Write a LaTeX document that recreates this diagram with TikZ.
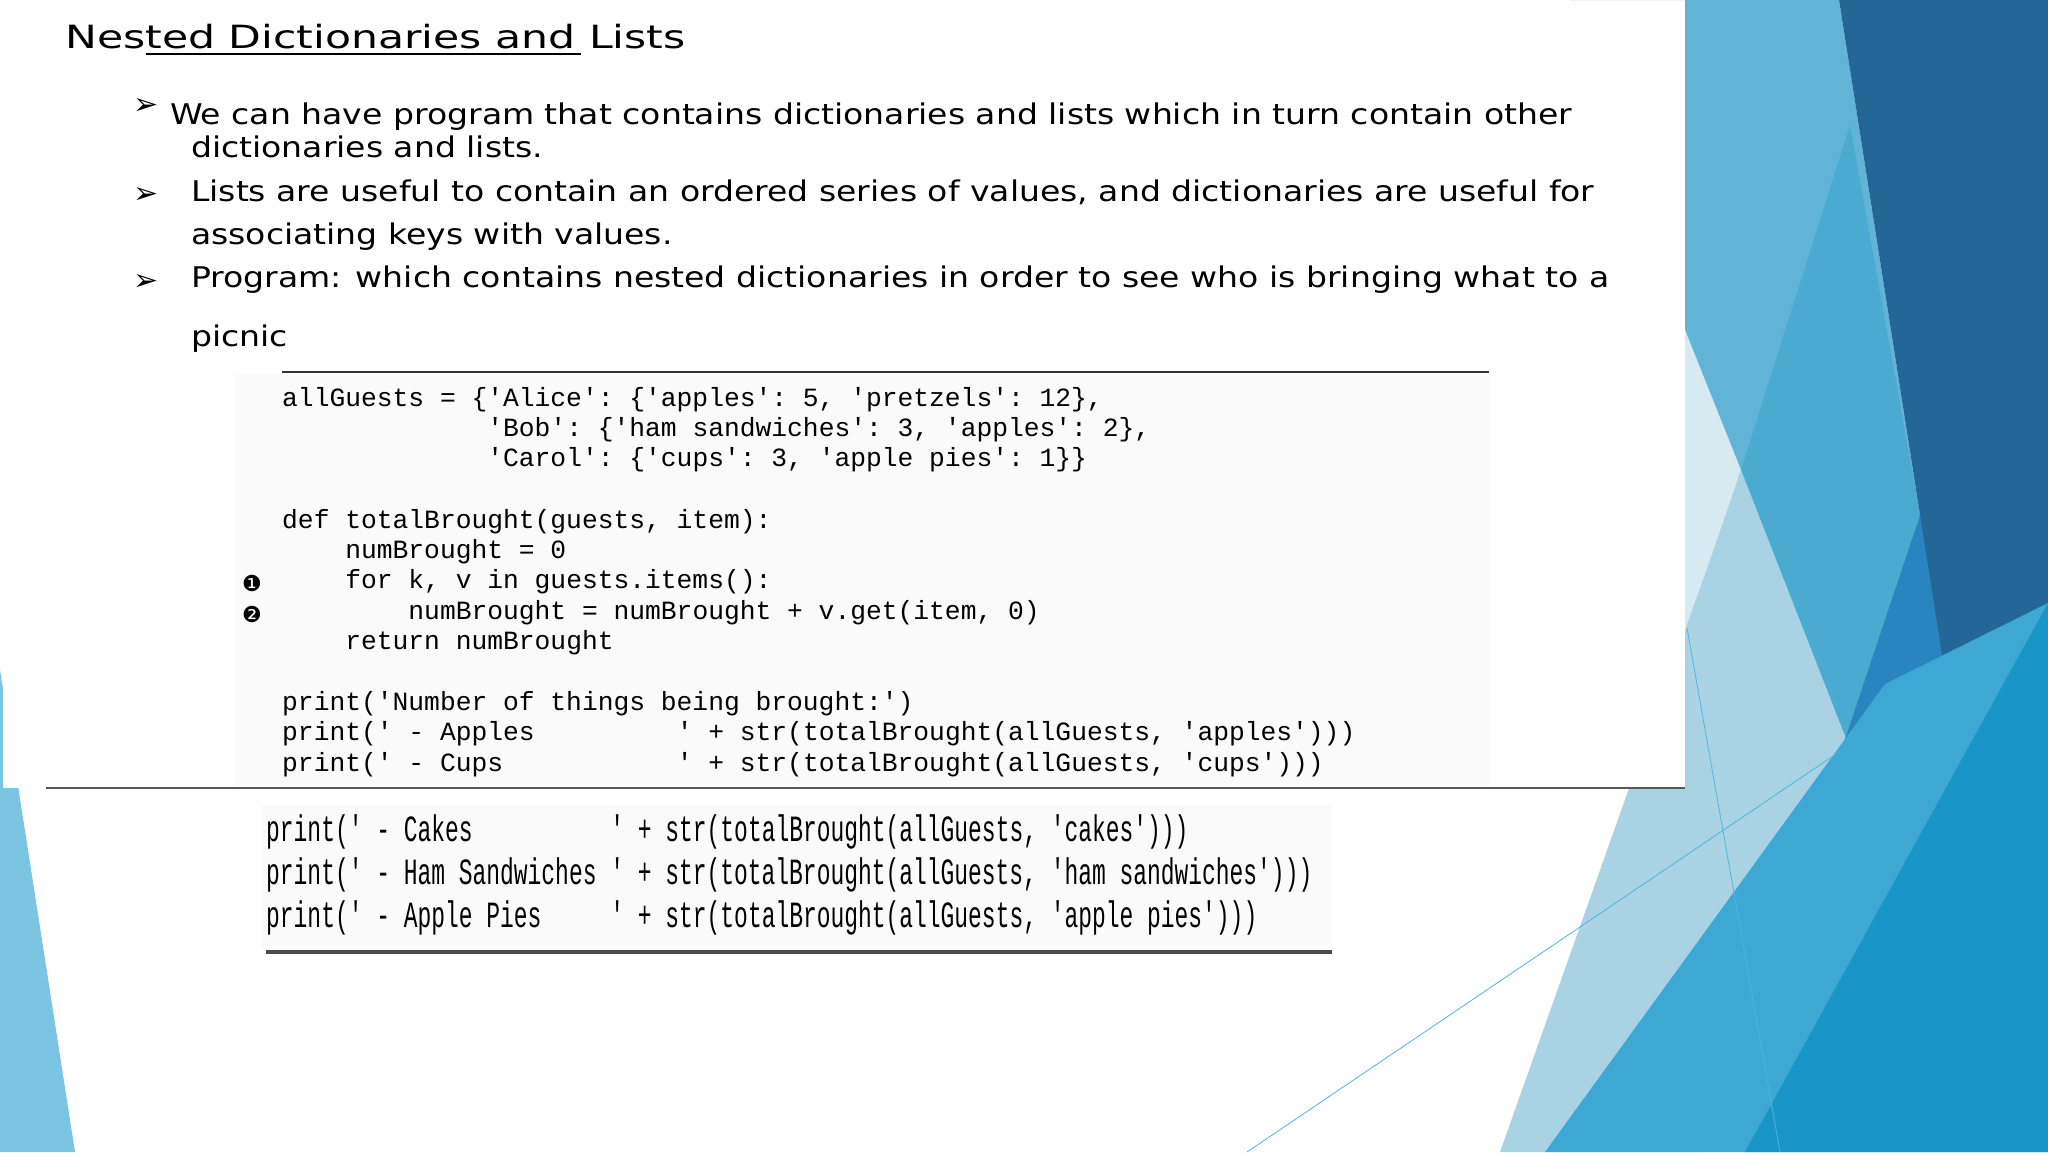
\documentclass[tikz,border=0pt]{standalone}
\usepackage{fontspec}
\setmainfont{DejaVu Sans}[FakeStretch=1.16]
\setmonofont{Liberation Mono}
\newfontfamily\titlefont{DejaVu Sans}[FakeStretch=1.33]
\newfontfamily\condmono{Liberation Mono}[FakeStretch=0.62]
\newfontfamily\dejavu{DejaVu Sans}
\definecolor{lblue}{RGB}{98,180,214}
\definecolor{mblue}{RGB}{74,170,208}
\definecolor{dblue}{RGB}{35,103,150}
\definecolor{pale}{RGB}{214,234,242}
\definecolor{grayblue}{RGB}{169,211,229}
\definecolor{band}{RGB}{60,168,211}
\definecolor{deep}{RGB}{26,149,199}
\definecolor{royal}{RGB}{42,132,192}
\definecolor{leftblue}{RGB}{124,197,226}
\definecolor{thinline}{RGB}{80,180,220}
\begin{document}
\begin{tikzpicture}[x=1pt,y=-1pt,
  body/.style={anchor=base west,inner sep=0pt,font=\fontsize{28.5}{30}\selectfont},
  codeline/.style={anchor=base west,inner sep=0pt,font=\fontsize{26.3}{28}\ttfamily},
  cond/.style={anchor=base west,inner sep=0pt,font=\fontsize{37}{40}\condmono},
  bulletmark/.style={anchor=base,inner sep=0pt,font=\fontsize{30}{32}\dejavu},
  nummark/.style={anchor=base,inner sep=0pt,font=\fontsize{22}{24}\dejavu}]
\useasboundingbox (0,0) rectangle (2048,1152);
\fill[white] (0,0) rectangle (2048,1152);
% left triangle
\fill[leftblue] (0,670) -- (75,1152) -- (0,1152) -- cycle;
% right shapes
\fill[lblue] (1570,0) -- (1839,0) -- (1920,515) -- (1839,757) -- (1685,330) -- (1685,0) -- cycle;
\fill[mblue] (1850,125) -- (1920,515) -- (1839,757) -- (1741,470) -- cycle;
\fill[pale] (1685,330) -- (1741,470) -- (1710,560) -- (1685,632) -- cycle;
\fill[grayblue] (1741,470) -- (1870,800) -- (1700,1152) -- (1500,1152) -- (1710,560) -- cycle;
\fill[dblue] (1839,0) -- (2048,0) -- (2048,603) -- (1864,926) -- (1920,515) -- cycle;
\fill[royal] (1920,515) -- (1958,757) -- (1864,926) -- (1839,757) -- cycle;
\fill[band] (1545,1152) -- (1885,684) -- (2048,603) -- (2048,1152) -- cycle;
\fill[deep] (1745,1152) -- (2048,603) -- (2048,1152) -- cycle;
\draw[thinline,line width=0.8] (1247,1152) -- (1839,752);
\draw[thinline,line width=0.8] (1687,628) -- (1780,1152);
% white panel
\fill[white] (3,21) rectangle (1685,788);
\draw[gray!70!black,line width=1.5] (46,788) -- (1685,788);
% title
\node[anchor=base west,inner sep=0pt,font=\fontsize{32}{34}\titlefont] (title) at (65,48) {Nested Dictionaries and Lists};
\draw[line width=1.2] (146,54) -- (581,54);
% bullets
\node[bulletmark] (b1) at (146,114) {➢};
\node[body] (t1) at (170,124) {We can have program that contains dictionaries and lists which in turn contain other};
\node[body] (t1b) at (191,157) {dictionaries and lists.};
\node[bulletmark] (b2) at (146,203) {➢};
\node[body] (t2) at (191,201) {Lists are useful to contain an ordered series of values, and dictionaries are useful for};
\node[body] (t2b) at (191,244) {associating keys with values.};
\node[bulletmark] (b3) at (146,290) {➢};
\node[body] (t3) at (191,287) {Program: which contains nested dictionaries in order to see who is bringing what to a};
\node[body] (t3b) at (191,346) {picnic};
% code block
\fill[gray!4] (235,374) rectangle (1489,785);
\draw[line width=1.5,black!80] (282,372) -- (1489,372);
\node[codeline] (c1) at (282,406) {allGuests = \{'Alice': \{'apples': 5, 'pretzels': 12\},};
\node[codeline] (c2) at (282,436) {~~~~~~~~~~~~~'Bob': \{'ham sandwiches': 3, 'apples': 2\},};
\node[codeline] (c3) at (282,466) {~~~~~~~~~~~~~'Carol': \{'cups': 3, 'apple pies': 1\}\}};
\node[codeline] (c4) at (282,528) {def totalBrought(guests, item):};
\node[codeline] (c5) at (282,558) {~~~~numBrought = 0};
\node[codeline] (c6) at (282,588) {~~~~for k, v in guests.items():};
\node[codeline] (c7) at (282,619) {~~~~~~~~numBrought = numBrought + v.get(item, 0)};
\node[codeline] (c8) at (282,649) {~~~~return numBrought};
\node[codeline] (c9) at (282,710) {print('Number of things being brought:')};
\node[codeline] (c10) at (282,740) {print(' - Apples~~~~~~~~~' + str(totalBrought(allGuests, 'apples')))};
\node[codeline] (c11) at (282,771) {print(' - Cups~~~~~~~~~~~' + str(totalBrought(allGuests, 'cups')))};
\node[nummark] (m1) at (252,591) {❶};
\node[nummark] (m2) at (252,622) {❷};
% lower block
\fill[gray!4] (262,805) rectangle (1332,948);
\node[cond] (d1) at (266,841) {print(' - Cakes~~~~~~~~~~' + str(totalBrought(allGuests, 'cakes')))};
\node[cond] (d2) at (266,884) {print(' - Ham Sandwiches~' + str(totalBrought(allGuests, 'ham sandwiches')))};
\node[cond] (d3) at (266,927) {print(' - Apple Pies~~~~~' + str(totalBrought(allGuests, 'apple pies')))};
\draw[line width=4,gray!60!black] (266,952) -- (1332,952);
\end{tikzpicture}
\end{document}
